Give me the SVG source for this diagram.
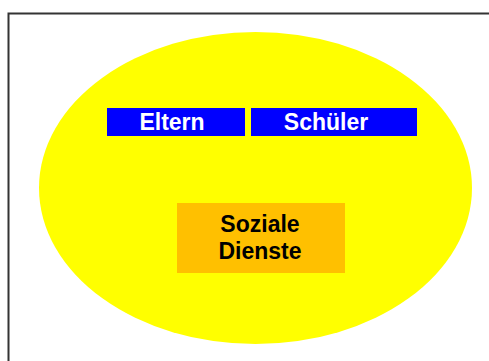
<svg xmlns="http://www.w3.org/2000/svg" width="489" height="361" viewBox="0 0 489 361">
  <style>
    .lbl { font-family: "Liberation Sans", Arial, sans-serif; font-weight: bold; font-size: 23px; text-anchor: middle; }
    .blue { fill: #0000FF; }
    .white { fill: #FFFFFF; }
  </style>
  <rect width="489" height="361" fill="#FFFFFF"/>
  <!-- frame open to the right and bottom -->
  <path d="M8.5,361 V13.5 H489" fill="none" stroke="#333333" stroke-width="2"/>
  <g id="umfeld">
    <ellipse cx="255.5" cy="188" rx="216.5" ry="156" fill="#FFFF00"/>
  </g>
  <g id="eltern">
    <rect class="blue" x="107" y="108" width="138" height="28"/>
    <text class="lbl white" x="172" y="129.5">Eltern</text>
  </g>
  <g id="schueler">
    <rect class="blue" x="251" y="108" width="166" height="28"/>
    <text class="lbl white" x="326" y="129.5">Schüler</text>
  </g>
  <g id="soziale-dienste">
    <rect x="177" y="203" width="168" height="70" fill="#FFC000"/>
    <text class="lbl" x="260" y="231.7" fill="#000000">Soziale</text>
    <text class="lbl" x="260" y="259.3" fill="#000000">Dienste</text>
  </g>
  <g id="connectors"/>
</svg>
